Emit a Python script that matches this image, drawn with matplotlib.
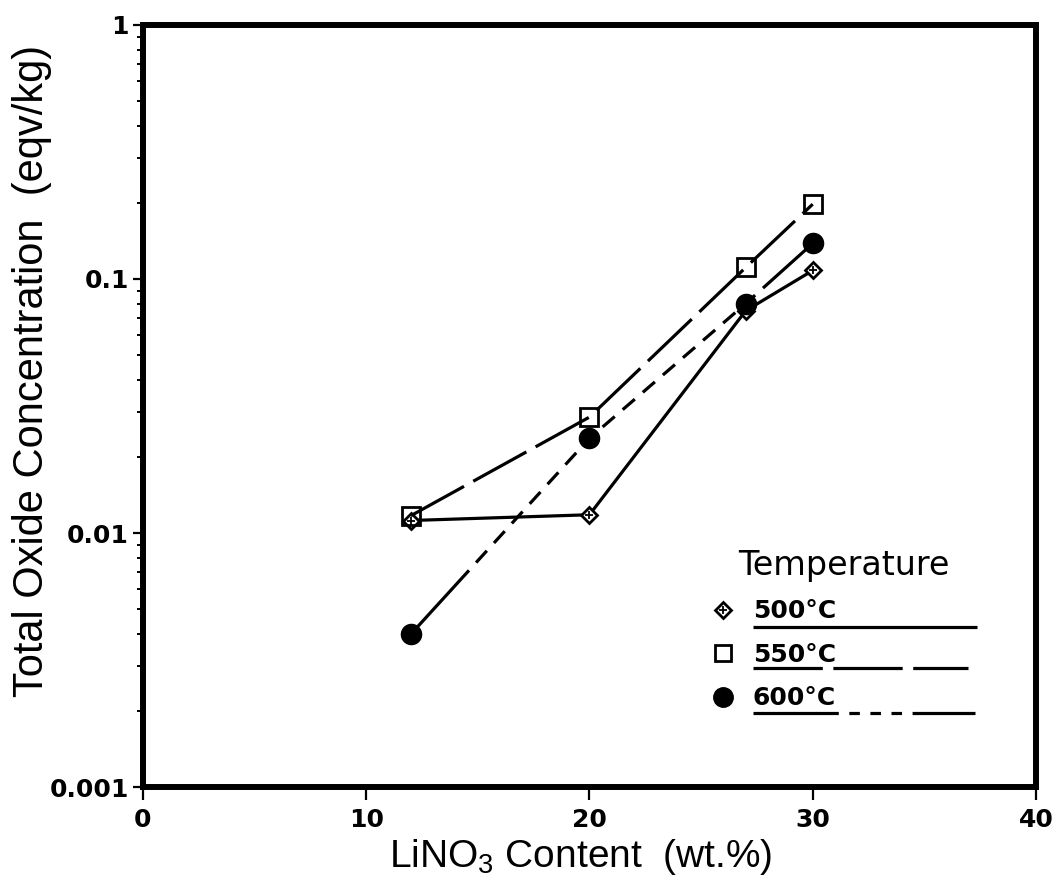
import matplotlib
matplotlib.use("Agg")
import matplotlib.pyplot as plt
from matplotlib import font_manager
from matplotlib.ticker import FixedLocator, FuncFormatter, LogLocator, NullFormatter

# values
lino3 = [12, 20, 27, 30]
oxide_500 = [0.0112, 0.0118, 0.075, 0.108]
oxide_550 = [0.0117, 0.0286, 0.111, 0.197]
oxide_600 = [0.0040, 0.0236, 0.080, 0.138]
x_ticks = [0, 10, 20, 30, 40]
y_ticks = [0.001, 0.01, 0.1, 1]
legend_title = "Temperature"
legend_labels = ["500°C", "550°C", "600°C"]

avail = {f.name for f in font_manager.fontManager.ttflist}
narrow = "Liberation Sans Narrow" if "Liberation Sans Narrow" in avail else "Liberation Sans"

plt.rcParams["font.family"] = ["DejaVu Sans"]
LW = 2.3
dash_550 = (0, (19, 3.3))
dash_600 = (0, (27, 3.3) + (5, 3.3) * 30)

fig = plt.figure(figsize=(10.53, 8.85), dpi=100)
ax = fig.add_axes([0.1358, 0.1107, 0.848, 0.8611])

ax.plot(lino3, oxide_500, color="black", lw=LW, marker="D", ms=8, mfc="white", mec="black", mew=2)
ax.plot(lino3, oxide_500, ls="none", marker="+", ms=6, mec="black", mew=1.3)
ax.plot(lino3, oxide_550, color="black", lw=LW, ls=dash_550, marker="s", ms=13, mfc="none", mec="black", mew=2)
ax.plot(lino3, oxide_600, color="black", lw=LW, ls=dash_600, marker="o", ms=14.5, mfc="black", mec="black")

ax.set_yscale("log")
ax.set_xlim(0, 40)
ax.set_ylim(0.001, 1)
ax.xaxis.set_major_locator(FixedLocator(x_ticks))
ax.yaxis.set_major_locator(FixedLocator(y_ticks))
ax.yaxis.set_minor_locator(LogLocator(base=10, subs=range(2, 10)))
ax.yaxis.set_major_formatter(FuncFormatter(lambda v, p: f"{v:g}"))
ax.yaxis.set_minor_formatter(NullFormatter())

for s in ax.spines.values():
    s.set_linewidth(4.3)
ax.tick_params(axis="x", which="major", direction="out", length=9, width=1.6, pad=6)
ax.tick_params(axis="y", which="major", direction="out", length=7, width=1.6, pad=3)
ax.tick_params(axis="y", which="minor", direction="out", length=4.5, width=1.4)
for lab in ax.get_xticklabels() + ax.get_yticklabels():
    lab.set_fontsize(18)
    lab.set_fontweight("bold")

ax.set_xlabel(r"LiNO$_\mathregular{3}$ Content  (wt.%)", family=narrow, fontsize=28)
ax.set_ylabel("Total Oxide Concentration  (eqv/kg)", family=narrow, fontsize=30)
ax.xaxis.label.set_va("baseline")
ax.xaxis.set_label_coords(0.49, -0.105)
ax.yaxis.set_label_coords(-0.102, 0.546)

# hand drawn legend, as in the original
tr = ax.transAxes
ax.text(0.666, 0.278, legend_title, transform=tr, fontsize=24, va="baseline")
mk = [dict(marker="D", ms=8, mfc="white", mec="black", mew=2),
      dict(marker="s", ms=11, mfc="none", mec="black", mew=2),
      dict(marker="o", ms=14, mfc="black", mec="black")]
mk_y = [0.232, 0.176, 0.118]
lab_y = [0.222, 0.164, 0.108]
line_y = [0.210, 0.156, 0.097]
line_end = [0.934, 0.924, 0.932]
line_ls = ["-", (0, (21.7, 3.3)), (0, (26.7, 3.3, 3.3, 3.3, 3.3, 3.3, 3.3, 3.3, 40))]
for lab, m, my, ly, ln, le, ls in zip(legend_labels, mk, mk_y, lab_y, line_y, line_end, line_ls):
    ax.plot([0.650], [my], transform=tr, ls="none", clip_on=False, **m)
    ax.text(0.683, ly, lab, transform=tr, fontsize=18, fontweight="bold", va="baseline")
    ax.plot([0.683, le], [ln, ln], transform=tr, color="black", lw=LW, ls=ls, solid_capstyle="butt")
ax.plot([0.650], [mk_y[0]], transform=tr, ls="none", marker="+", ms=6, mec="black", mew=1.3)

fig.savefig("out.png", dpi=100)
